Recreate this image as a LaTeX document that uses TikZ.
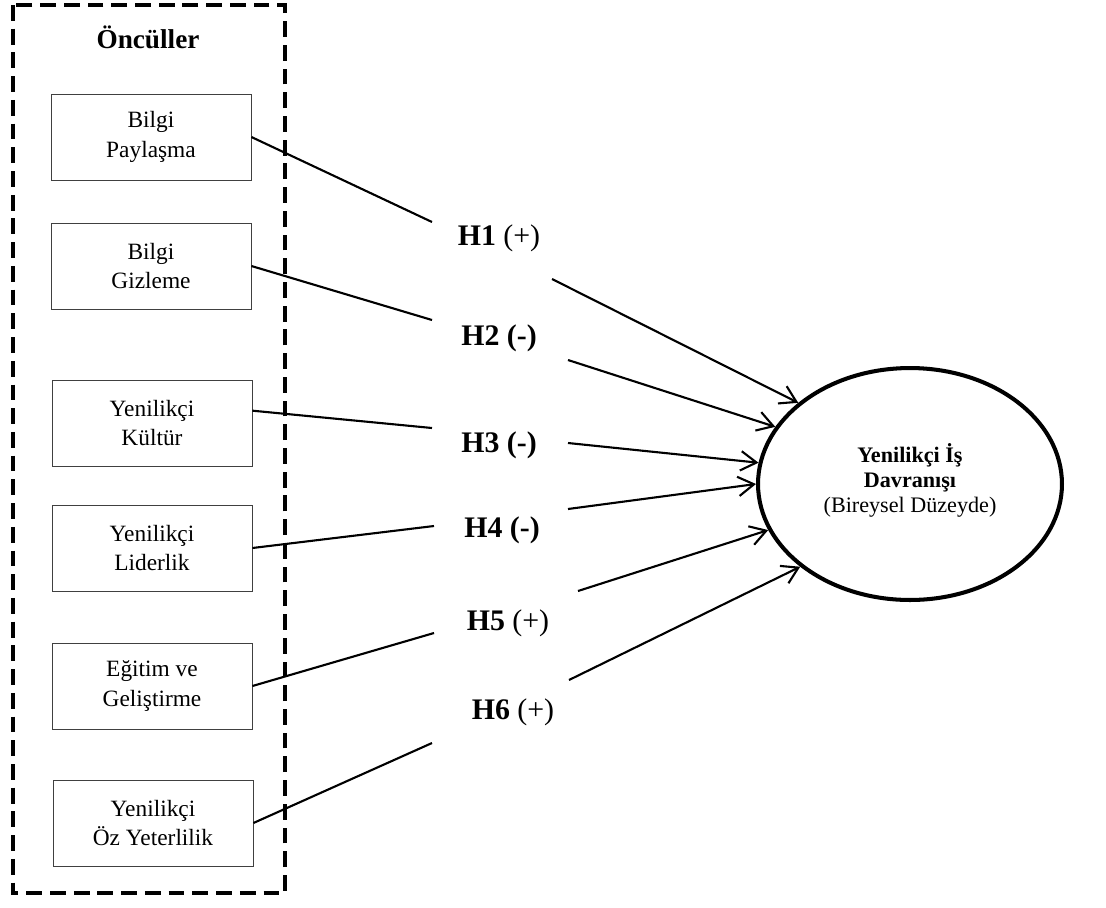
\documentclass[tikz,border=0pt]{standalone}
\usepackage{fontspec}
\setmainfont{Liberation Serif}
\usetikzlibrary{arrows.meta,shapes.geometric}

\begin{document}
\begin{tikzpicture}[x=0.02cm, y=-0.02cm, >={Straight Barb[length=9pt,width=11pt]},
    box/.style={draw=black!75, line width=0.5pt, minimum width=4cm, minimum height=1.72cm, align=center, font=\fontsize{13.3}{17}\selectfont},
    hyp/.style={font=\fontsize{17}{20}\selectfont},
    link/.style={line width=1.2pt}]
    \useasboundingbox (0,0) rectangle (1106,907);
    % antecedents frame
    \draw[line width=2.5pt, dash pattern=on 9pt off 4.5pt] (13,5) rectangle (285,893);
    \node[font=\fontsize{15.5}{18}\selectfont\bfseries] (title) at (148,37) {Öncüller};
    \node[box] (b1) at (151,137) {Bilgi\\Paylaşma};
    \node[box] (b2) at (151,266) {Bilgi\\Gizleme};
    \node[box] (b3) at (152,423) {Yenilikçi\\Kültür};
    \node[box] (b4) at (152,548) {Yenilikçi\\Liderlik};
    \node[box] (b5) at (152,686) {Eğitim ve\\Geliştirme};
    \node[box] (b6) at (153,823) {Yenilikçi\\Öz Yeterlilik};
    % outcome
    \node[ellipse, draw, line width=2.3pt, minimum width=6.08cm, minimum height=4.64cm, inner sep=0pt, align=center, font=\fontsize{12.6}{14.5}\selectfont] (idb) at (910,484)
        {\textbf{Yenilikçi İş}\\\textbf{Davranışı}\\(Bireysel Düzeyde)\\[-7.7pt]};
    % hypotheses
    \node[hyp] (h1) at (499,238) {\textbf{H1} (+)};
    \node[hyp] (h2) at (499,338) {\textbf{H2 (-)}};
    \node[hyp] (h3) at (499,445) {\textbf{H3 (-)}};
    \node[hyp] (h4) at (502,530) {\textbf{H4 (-)}};
    \node[hyp] (h5) at (508,623) {\textbf{H5} (+)};
    \node[hyp] (h6) at (513,712) {\textbf{H6} (+)};
    \coordinate (h1in) at (432,222);
    \coordinate (h2in) at (432,320);
    \coordinate (h3in) at (432,428);
    \coordinate (h4in) at (434,526);
    \coordinate (h5in) at (434,633);
    \coordinate (h6in) at (432,743);
    \coordinate (h1out) at (552,279);
    \coordinate (h2out) at (568,360);
    \coordinate (h3out) at (568,443);
    \coordinate (h4out) at (568,509);
    \coordinate (h5out) at (578,591);
    \coordinate (h6out) at (569,680);
    \draw[link] (b1.east) -- (h1in);
    \draw[link] (b2.east) -- (h2in);
    \draw[link] (b3.7) -- (h3in);
    \draw[link] (b4.east) -- (h4in);
    \draw[link] (b5.east) -- (h5in);
    \draw[link] (b6.east) -- (h6in);
    \draw[link, ->] (h1out) -- (idb.144);
    \draw[link, ->] (h2out) -- (idb.157);
    \draw[link, ->] (h3out) -- (idb.172);
    \draw[link, ->] (h4out) -- (idb.180);
    \draw[link, ->] (h5out) -- (idb.198);
    \draw[link, ->] (h6out) -- (idb.217);
\end{tikzpicture}
\end{document}
